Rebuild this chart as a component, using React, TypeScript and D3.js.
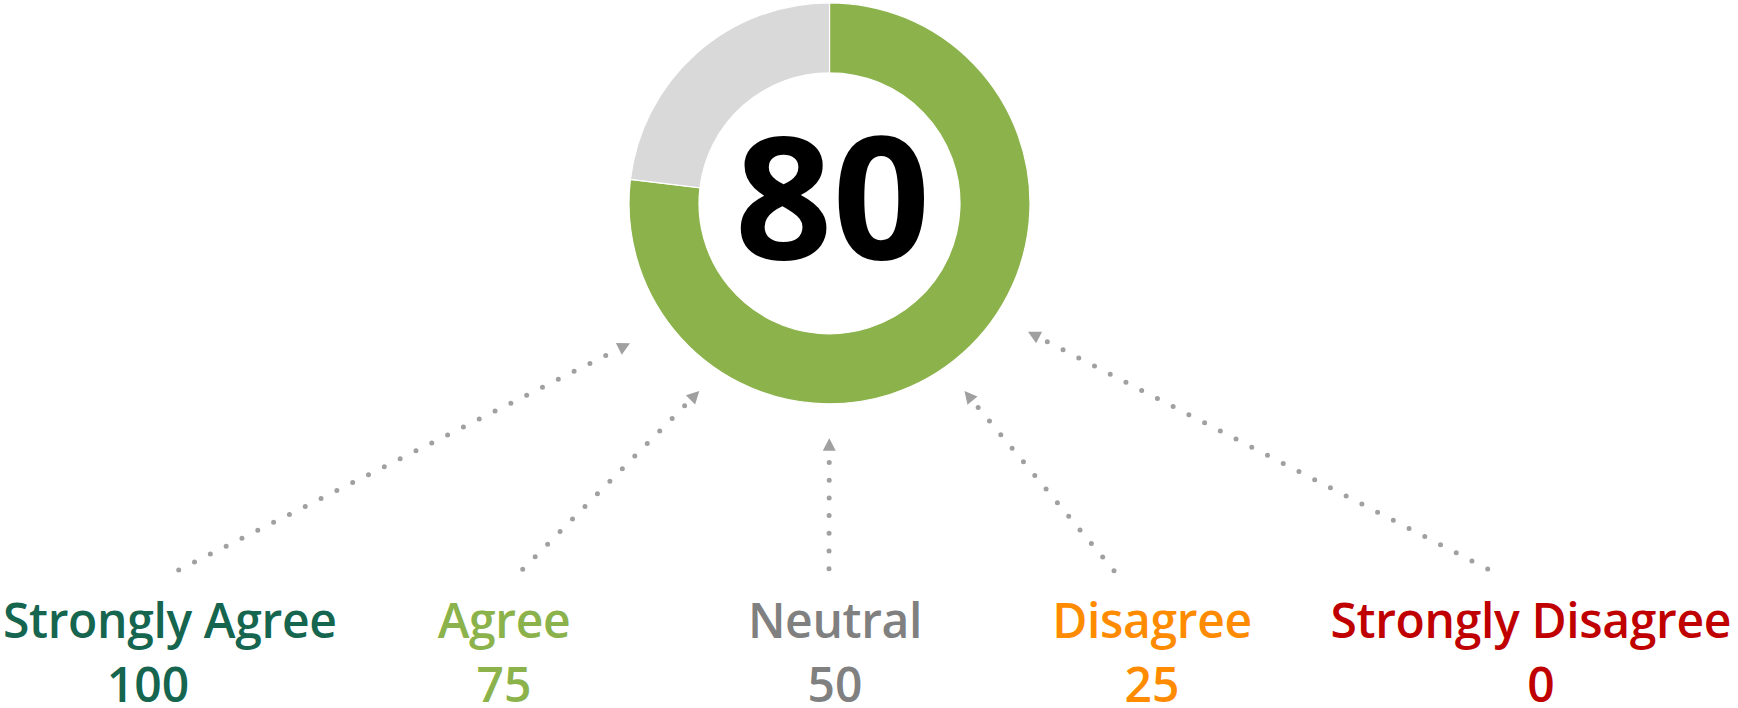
import React, { useEffect, useRef } from "react";
import * as d3 from "d3";

// ---- data ----
const score = 80;
const ringSegments = ["Score", "Remainder"];
const ringValues = [76.9, 23.1];
const ringColors = ["#8BB24B", "#D9D9D9"];

const categories = ["Strongly Agree", "Agree", "Neutral", "Disagree", "Strongly Disagree"];
const categoryValues = [100, 75, 50, 25, 0];
const categoryColors = ["#15654F", "#8BB24B", "#808080", "#FF8C00", "#C00000"];

// ---- layout ----
const W = 1738;
const H = 708;
const CX = 829.5;
const CY = 203.3;
const R_OUT = 200.5;
const R_IN = 130.5;
const labelCenters = [148, 504, 835, 1152, 1541];
const arrowStarts: [number, number][] = [
  [178.7, 570],
  [522.7, 569.3],
  [829, 568.7],
  [1114, 570.7],
  [1487.7, 569],
];
const arrowTips: [number, number][] = [
  [630, 343.3],
  [699.3, 391],
  [829.3, 438.3],
  [964.5, 391],
  [1028, 331.7],
];

export default function App() {
  const ref = useRef<SVGSVGElement | null>(null);

  useEffect(() => {
    const svg = d3.select(ref.current);
    svg.selectAll("*").remove();

    // donut
    const pie = d3
      .pie<number>()
      .sort(null)
      .value((d) => d);
    const arc = d3.arc<d3.PieArcDatum<number>>().innerRadius(R_IN).outerRadius(R_OUT);
    const g = svg.append("g").attr("transform", `translate(${CX},${CY})`);
    g.selectAll("path")
      .data(pie(ringValues))
      .join("path")
      .attr("d", arc as any)
      .attr("fill", (_d, i) => ringColors[i])
      .attr("stroke", "#fff")
      .attr("stroke-width", 1.2)
      .append("title")
      .text((_d, i) => ringSegments[i]);

    g.append("text")
      .attr("x", 3)
      .attr("y", 56)
      .attr("text-anchor", "middle")
      .attr("font-family", "'Open Sans', sans-serif")
      .attr("font-weight", 700)
      .attr("font-size", 171)
      .attr("fill", "#000")
      .text(String(score));

    // arrows
    const HEAD_LEN = 12.5;
    const HEAD_W = 13;
    const ag = svg.append("g");
    arrowStarts.forEach((s, i) => {
      const t = arrowTips[i];
      const dx = t[0] - s[0];
      const dy = t[1] - s[1];
      const len = Math.hypot(dx, dy);
      const ux = dx / len;
      const uy = dy / len;
      const bx = t[0] - ux * HEAD_LEN;
      const by = t[1] - uy * HEAD_LEN;
      const line = d3.line();
      ag.append("path")
        .attr("d", line([s, [bx - ux * 4, by - uy * 4]]))
        .attr("stroke", "#A0A0A0")
        .attr("stroke-width", 5)
        .attr("stroke-linecap", "round")
        .attr("stroke-dasharray", "0 17.7")
        .attr("fill", "none");
      const px = -uy;
      const py = ux;
      const pts: [number, number][] = [
        t,
        [bx + (px * HEAD_W) / 2, by + (py * HEAD_W) / 2],
        [bx - (px * HEAD_W) / 2, by - (py * HEAD_W) / 2],
      ];
      ag.append("path").attr("d", d3.line()([...pts, t]) + "Z").attr("fill", "#A0A0A0");
    });

    // labels
    const lg = svg.append("g");
    categories.forEach((c, i) => {
      const t = lg
        .append("text")
        .attr("x", labelCenters[i])
        .attr("y", 638)
        .attr("text-anchor", "middle")
        .attr("font-family", "'Open Sans', sans-serif")
        .attr("font-weight", 600)
        .attr("font-size", 48)
        .attr("letter-spacing", -0.35)
        .attr("fill", categoryColors[i])
        .text(c);
      const node = t.node() as SVGTextElement;
      const w = node.getComputedTextLength();
      let x = labelCenters[i];
      const margin = 3;
      if (x - w / 2 < margin) x = margin + w / 2;
      if (x + w / 2 > W - margin - 4) x = W - margin - 4 - w / 2;
      t.attr("x", x);
      lg.append("text")
        .attr("x", labelCenters[i])
        .attr("y", 702)
        .attr("text-anchor", "middle")
        .attr("font-family", "'Open Sans', sans-serif")
        .attr("font-weight", 600)
        .attr("font-size", 48)
        .attr("fill", categoryColors[i])
        .text(String(categoryValues[i]));
    });
  }, []);

  return (
    <svg
      ref={ref}
      width={W}
      height={H}
      style={{ position: "absolute", left: 0, top: 0, background: "#fff" }}
    />
  );
}
